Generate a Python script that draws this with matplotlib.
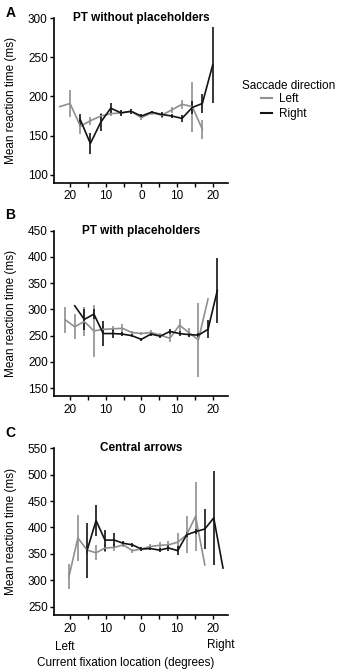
import matplotlib
matplotlib.use("Agg")
import matplotlib.pyplot as plt
from matplotlib.lines import Line2D

plt.rcParams['font.family'] = ['Liberation Sans', 'DejaVu Sans']

# ---------------- data ----------------
# Panel A: PT without placeholders
A_left_x = [-22.9, -20.0, -17.1, -14.3, -11.4, -8.6, -5.7, -2.9, 0.0, 2.9, 5.7, 8.6, 11.4, 14.3, 17.1]
A_left_y = [187, 191, 162, 169, 175, 178, 179, 181, 173, 179, 176, 183, 190, 187, 158]
A_left_e = [0, 17, 10, 5, 4, 3, 3, 3, 3, 3, 3, 4, 6, 32, 12]
A_right_x = [-17.1, -14.3, -11.4, -8.6, -5.7, -2.9, 0.0, 2.9, 5.7, 8.6, 11.4, 14.3, 17.1, 20.0]
A_right_y = [170, 140, 167, 185, 179, 181, 175, 180, 177, 175, 172, 186, 191, 240]
A_right_e = [8, 13, 11, 6, 4, 3, 3, 2, 3, 3, 4, 8, 12, 49]

# Panel B: PT with placeholders
B_left_x = [-21.3, -18.7, -16.0, -13.3, -10.7, -8.0, -5.3, -2.7, 0.0, 2.7, 5.3, 8.0, 10.7, 13.3, 16.0, 18.7]
B_left_y = [280, 267, 277, 259, 262, 263, 264, 256, 254, 256, 251, 245, 270, 256, 242, 320]
B_left_e = [25, 24, 27, 50, 6, 5, 8, 3, 3, 4, 4, 8, 11, 8, 70, 0]
B_right_x = [-18.7, -16.0, -13.3, -10.7, -8.0, -5.3, -2.7, 0.0, 2.7, 5.3, 8.0, 10.7, 13.3, 16.0, 18.7, 21.3]
B_right_y = [307, 281, 291, 254, 254, 253, 250, 243, 253, 249, 258, 254, 252, 251, 262, 336]
B_right_e = [0, 20, 10, 24, 8, 4, 3, 3, 3, 3, 5, 4, 4, 4, 17, 62]

# Panel C: Central arrows
C_left_x = [-20.3, -17.8, -15.2, -12.7, -10.2, -7.6, -5.1, -2.5, 0.0, 2.5, 5.1, 7.6, 10.2, 12.7, 15.2, 17.8]
C_left_y = [307, 380, 357, 352, 361, 362, 367, 356, 359, 364, 366, 367, 372, 386, 421, 329]
C_left_e = [24, 44, 8, 14, 8, 6, 5, 4, 4, 5, 7, 8, 17, 35, 65, 0]
C_right_x = [-15.2, -12.7, -10.2, -7.6, -5.1, -2.5, 0.0, 2.5, 5.1, 7.6, 10.2, 12.7, 15.2, 17.8, 20.3, 22.9]
C_right_y = [357, 413, 376, 376, 370, 367, 359, 360, 357, 361, 356, 386, 392, 397, 418, 323]
C_right_e = [52, 30, 20, 13, 5, 4, 3, 3, 4, 5, 8, 5, 5, 38, 89, 0]

panel_titles = ["PT without placeholders", "PT with placeholders", "Central arrows"]
panel_letters = ["A", "B", "C"]
y_ticks = [[100, 150, 200, 250, 300],
           [150, 200, 250, 300, 350, 400, 450],
           [250, 300, 350, 400, 450, 500, 550]]
y_lims = [(90, 300), (135, 450), (234, 550)]
x_ticks = [-20, -15, -10, -5, 0, 5, 10, 15, 20]
x_ticklabels = ["20", "", "10", "", "0", "", "10", "", "20"]
series_names = ["Left", "Right"]

GRAY = "#8f8f8f"
BLACK = "#141414"

W, H = 340, 671
fig = plt.figure(figsize=(W / 100, H / 100), dpi=100)

# axes rectangles in pixels: (left, top, right, bottom)
rects = [(54, 18, 228, 182.7), (54, 230.7, 228, 396), (54, 448.3, 228, 615)]
data = [
    (A_left_x, A_left_y, A_left_e, A_right_x, A_right_y, A_right_e),
    (B_left_x, B_left_y, B_left_e, B_right_x, B_right_y, B_right_e),
    (C_left_x, C_left_y, C_left_e, C_right_x, C_right_y, C_right_e),
]
letter_pos = [(11, 13), (10, 215), (10, 433)]

axes = []
for i, (l, t, r, b) in enumerate(rects):
    ax = fig.add_axes([l / W, 1 - b / H, (r - l) / W, (b - t) / H])
    axes.append(ax)
    lx, ly, le, rx, ry, re = data[i]
    ax.errorbar(lx, ly, yerr=le, color=GRAY, lw=1.2, elinewidth=1.2, capsize=0,
                label=series_names[0])
    ax.errorbar(rx, ry, yerr=re, color=BLACK, lw=1.2, elinewidth=1.2, capsize=0,
                label=series_names[1])
    ax.set_xlim(-24.5, 24.3)
    ax.set_ylim(*y_lims[i])
    ax.set_xticks(x_ticks)
    ax.set_xticklabels(x_ticklabels)
    ax.set_yticks(y_ticks[i])
    for s in ["top", "right"]:
        ax.spines[s].set_visible(False)
    for s in ["left", "bottom"]:
        ax.spines[s].set_linewidth(1.2)
        ax.spines[s].set_color("black")
    ax.tick_params(axis="both", length=3, width=1.0, labelsize=8.5, pad=2.5, colors="black")
    ax.tick_params(axis="y", pad=1.5)
    ax.set_ylabel("Mean reaction time (ms)", fontsize=8.5)
    ax.yaxis.set_label_coords(-0.215, 0.5)
    ax.text(0.5, 1.0, panel_titles[i], transform=ax.transAxes, ha="center", va="center",
            fontsize=8.5, fontweight="bold")
    fig.text(letter_pos[i][0] / W, 1 - letter_pos[i][1] / H, panel_letters[i],
             ha="center", va="center", fontsize=10, fontweight="bold")

# legend
fig.text(242 / W, 1 - 86 / H, "Saccade direction", ha="left", va="center", fontsize=8.5)
handles = [Line2D([], [], color=GRAY, lw=1.5), Line2D([], [], color=BLACK, lw=1.5)]
fig.legend(handles, series_names, loc="center left",
           bbox_to_anchor=(261 / W, 1 - 106.3 / H), frameon=False, fontsize=8.5,
           handlelength=0.9, handletextpad=0.6, labelspacing=0.25, borderpad=0,
           borderaxespad=0)

# bottom annotations
fig.text(55 / W, 1 - 647 / H, "Left", ha="left", va="center", fontsize=8.5)
fig.text(235 / W, 1 - 645 / H, "Right", ha="right", va="center", fontsize=8.5)
fig.text(126 / W, 1 - 663 / H, "Current fixation location (degrees)", ha="center",
         va="center", fontsize=8.5)

fig.savefig("out.png", dpi=100)
